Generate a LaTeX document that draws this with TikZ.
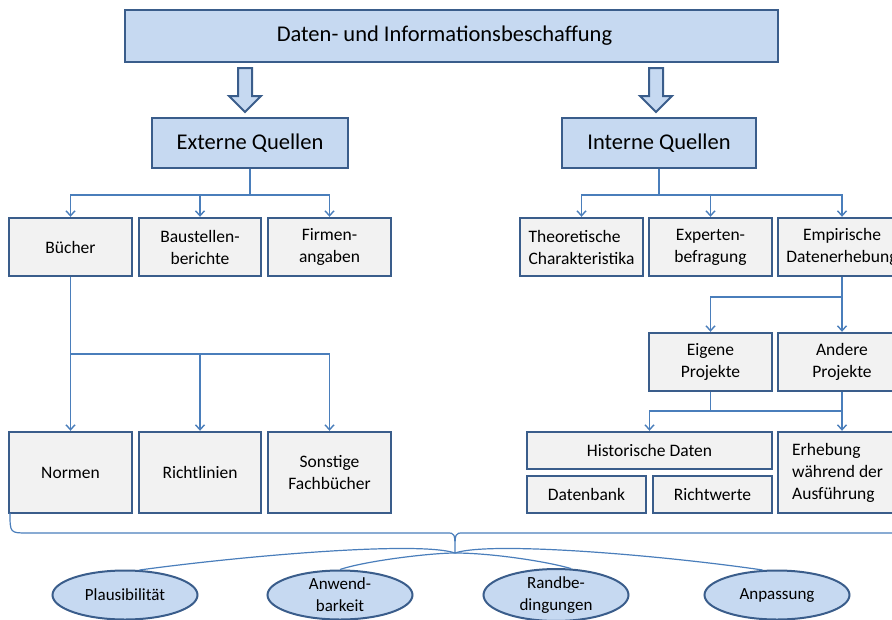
\documentclass[tikz,border=0pt]{standalone}
\usepackage{fontspec}
\setmainfont{Carlito}
\usetikzlibrary{arrows.meta,shapes.geometric,calc}
\definecolor{boxline}{HTML}{3A5D8B}
\definecolor{headfill}{HTML}{C6D9F1}
\definecolor{itemfill}{HTML}{F2F2F2}
\definecolor{linkblue}{HTML}{4A7EBB}
\tikzset{
  headbox/.style={draw=boxline, line width=2.4pt, fill=headfill, inner sep=0pt,
    font=\fontsize{22.5}{26}\selectfont},
  itembox/.style={draw=boxline, line width=2.4pt, fill=itemfill, inner sep=0pt,
    align=center, font=\fontsize{17.5}{22}\selectfont},
  oval/.style={ellipse, draw=boxline, line width=2pt, fill=headfill, inner sep=0pt,
    minimum width=145pt, minimum height=49pt, align=center,
    font=\fontsize{17}{22}\selectfont},
  link/.style={draw=linkblue, line width=1.4pt},
  arr/.style={link, -{Straight Barb[length=5pt,width=9pt,line width=1.4pt]}},
  hollow/.style={draw=boxline, line width=2pt, fill=headfill, line join=miter}
}
\begin{document}
\begin{tikzpicture}[x=1pt,y=-1pt]
\useasboundingbox (0,0) rectangle (892,619);
\clip (0,0) rectangle (892,619);

% top level
\node[headbox, minimum width=653pt, minimum height=52pt] (top) at (451.5,36)
  {\hspace*{-14pt}Daten- und Informationsbeschaffung};
\node[headbox, minimum width=196pt, minimum height=50pt] (ext) at (250,143) {Externe Quellen};
\node[headbox, minimum width=194pt, minimum height=50pt] (int) at (659,143) {Interne Quellen};

% hollow block arrows between the levels
\foreach \c/\tx in {la/245, ra/656}{
  \coordinate (\c s) at (\tx,68);
  \coordinate (\c t) at (\tx,112);
  \draw[hollow] ($(\c s)+(-7,0)$) -- ($(\c s)+(7,0)$) -- ($(\c t)+(7,-16)$)
    -- ($(\c t)+(16,-16)$) -- (\c t) -- ($(\c t)+(-16,-16)$)
    -- ($(\c t)+(-7,-16)$) -- cycle;
}

% external sources
\node[itembox, minimum width=123pt, minimum height=58pt] (buecher) at (70.5,247) {Bücher};
\node[itembox, minimum width=122pt, minimum height=58pt] (baust) at (200,247) {Baustellen-\\berichte};
\node[itembox, minimum width=123pt, minimum height=58pt] (firmen) at (329.5,247) {Firmen-\\angaben};
\node[itembox, minimum width=123pt, minimum height=81pt] (normen) at (70.5,472.5) {Normen};
\node[itembox, minimum width=122pt, minimum height=81pt] (richt) at (200,472.5) {Richtlinien};
\node[itembox, minimum width=123pt, minimum height=81pt] (sonst) at (329.5,472.5) {Sonstige\\Fachbücher};

% internal sources
\node[itembox, minimum width=123pt, minimum height=58pt, align=left] (theo) at (581.5,247)
  {Theoretische\\Charakteristika};
\node[itembox, minimum width=123pt, minimum height=58pt] (exper) at (710.5,247) {Experten-\\befragung};
\node[itembox, minimum width=128pt, minimum height=58pt] (emp) at (842,247) {Empirische\\Datenerhebung};
\node[itembox, minimum width=123pt, minimum height=58pt] (eigene) at (710.5,362) {Eigene\\Projekte};
\node[itembox, minimum width=128pt, minimum height=58pt] (andere) at (842,362) {Andere\\Projekte};
\node[itembox, minimum width=245pt, minimum height=37pt] (hist) at (649.5,450.5) {Historische Daten};
\node[itembox, minimum width=119pt, minimum height=37pt] (dbank) at (586.5,494.5) {Datenbank};
\node[itembox, minimum width=119pt, minimum height=37pt] (rwerte) at (712.5,494.5) {Richtwerte};
\node[itembox, minimum width=128pt, minimum height=81pt] (erheb) at (842,472.5) {};
\node[anchor=west, align=left, inner sep=0pt, font=\fontsize{17.5}{22}\selectfont] (erhebtxt)
  at (792,472.5) {Erhebung\\während der\\Ausführung};

% branching connectors
\coordinate (ej) at (250,195);
\draw[link] (ext.south) -- (ej);
\foreach \n in {buecher,baust,firmen} \draw[arr] (ej) -| (\n.north);

\coordinate (ij) at (659,195);
\draw[link] (int.south) -- (ij);
\foreach \n in {theo,exper,emp} \draw[arr] (ij) -| (\n.north);

\coordinate (bj) at (70.5,354);
\draw[link] (buecher.south) -- (bj);
\foreach \n in {normen,richt,sonst} \draw[arr] (bj) -| (\n.north);

\coordinate (mj) at (842,297);
\draw[link] (emp.south) -- (mj);
\foreach \n in {eigene,andere} \draw[arr] (mj) -| (\n.north);

\coordinate (pj) at (710.5,411);
\draw[link] (eigene.south) -- (pj);
\draw[link] (andere.south) |- (pj);
\foreach \n in {hist,erheb} \draw[arr] (pj) -| (\n.north);

% brace under the sources
\coordinate (tip) at (455,553);
\draw[link, line width=1.2pt] (10,513) .. controls (10,533) .. (28,533) -- (447,533)
  .. controls (455,533) .. (tip) .. controls (455,533) .. (463,533) -- (900,533);

% criteria
\node[oval] (plaus) at (125,595) {Plausibilität};
\node[oval] (anw) at (340,595) {Anwend-\\barkeit};
\node[oval] (rand) at (556,595) {Randbe-\\dingungen};
\node[oval] (anp) at (777,595) {Anpassung};

\draw[link, line width=1.2pt] (tip) .. controls (420,541) and (250,555) .. (plaus.60);
\draw[link, line width=1.2pt] (tip) .. controls (430,553) and (365,561) .. (anw.north);
\draw[link, line width=1.2pt] (tip) .. controls (490,553) and (545,561) .. (rand.60);
\draw[link, line width=1.2pt] (tip) .. controls (490,541) and (660,555) .. (anp.120);
\end{tikzpicture}
\end{document}
